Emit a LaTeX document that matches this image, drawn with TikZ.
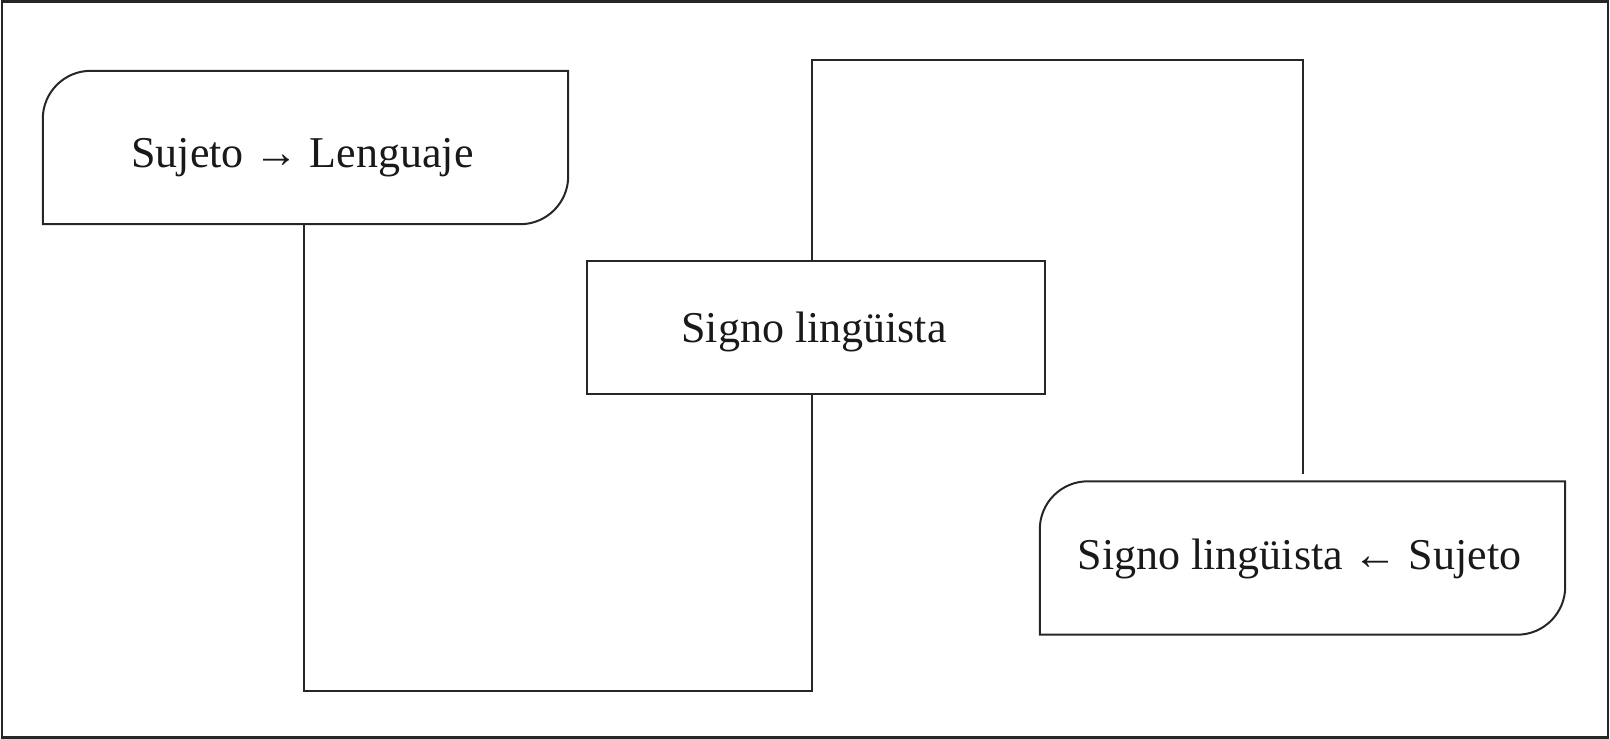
\documentclass[tikz,border=0pt]{standalone}
\usepackage{fontspec}
\setmainfont{Liberation Serif}
\usetikzlibrary{calc}
\begin{document}
\begin{tikzpicture}[x=1pt,y=-1pt,
  boxshape/.style={inner sep=0pt},
  lbl/.style={inner sep=0pt,font=\fontsize{44}{52}\selectfont,text=black!90},
  edge/.style={line width=2pt,black!85}]
\useasboundingbox (0,0) rectangle (1610,739);
\draw[line width=2.5pt,black!85] (2,1.5) rectangle (1608,737.5);
% nodes
\node[boxshape,minimum width=525pt,minimum height=153pt] (a) at (305.5,147.5) {};
\node[boxshape,minimum width=458pt,minimum height=133pt] (b) at (816,327.5) {};
\node[boxshape,minimum width=525pt,minimum height=153pt] (c) at (1302.5,558) {};
\node[lbl] (at) at ($(a.center)+(-3,10)$) {Sujeto → Lenguaje};
\node[lbl] (bt) at ($(b.center)+(-2,4)$) {Signo lingüista};
\node[lbl] (ct) at ($(c.center)+(-3,1)$) {Signo lingüista ← Sujeto};
% borders
\draw[edge] (a.north) -- (a.north east) [rounded corners=48pt] -- (a.south east) [sharp corners] -- (a.south west) [rounded corners=48pt] -- (a.north west) [sharp corners] -- cycle;
\draw[edge] (b.south west) rectangle (b.north east);
\draw[edge] (c.north) -- (c.north east) [rounded corners=48pt] -- (c.south east) [sharp corners] -- (c.south west) [rounded corners=48pt] -- (c.north west) [sharp corners] -- cycle;
% connectors
\coordinate (e) at (1303,474);
\draw[edge] ($(a.south)+(-2,0)$) -- ++(0,467) -| ($(b.south)+(-4,0)$);
\draw[edge] ($(b.north)+(-4,0)$) -- ++(0,-200.5) -| (e);
\end{tikzpicture}
\end{document}
